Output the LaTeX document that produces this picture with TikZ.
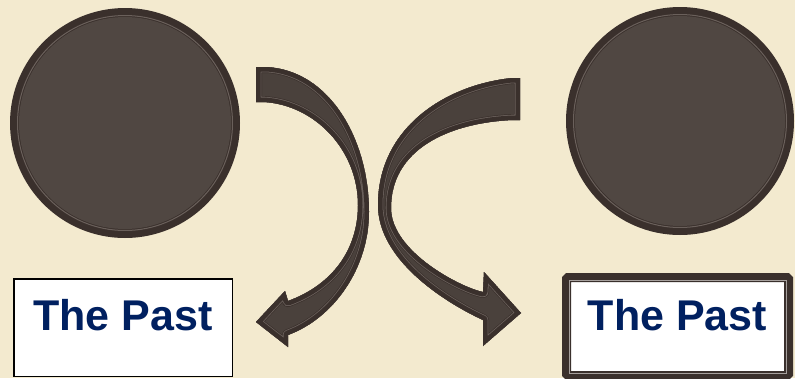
\documentclass[tikz,border=0pt]{standalone}
\usepackage{fontspec}
\newfontfamily\pastfont{Liberation Sans}
\usepackage{tikz}
\definecolor{parchment}{RGB}{243,234,207}
\definecolor{ringdark}{RGB}{58,48,44}
\definecolor{discfill}{RGB}{80,71,66}
\definecolor{bandfill}{RGB}{74,65,60}
\definecolor{ringlight}{RGB}{106,96,91}
\definecolor{pastblue}{RGB}{0,32,96}
\tikzset{
  disc/.style={circle, fill=ringdark, inner sep=0pt, outer sep=0pt},
  discline/.style={draw=ringlight, line width=1pt},
  pastbox/.style={rectangle, fill=white, inner sep=0pt, outer sep=0pt, text=pastblue,
    font=\pastfont\bfseries\fontsize{43}{43}\selectfont},
  plainbox/.style={pastbox, draw=black, line width=1.5pt},
  framebox/.style={pastbox, draw=ringdark, line width=9pt, rounded corners=1.5pt},
  frameline/.style={draw=ringlight!60!white, line width=1pt},
  bandedge/.style={line join=round, line width=#1}
}
\newcommand\bentarrowL{(256,67) -- (266,67)
  .. controls (330,70) and (369,140) .. (369,212)
  .. controls (369,268) and (334,318) .. (288,335)
  -- (288,347) -- (256,322) -- (285,291) -- (288,301)
  .. controls (332,285) and (358,250) .. (358,205)
  .. controls (358,150) and (315,105) .. (264,102)
  -- (256,102) -- cycle}
\newcommand\bentarrowR{(520,78) -- (520,120) -- (512,120)
  .. controls (449,123) and (391,149) .. (391,208)
  .. controls (391,252) and (462,288) .. (483,292)
  -- (484,272) -- (521,313) -- (483,346) -- (483,320)
  .. controls (442,301) and (378,259) .. (378,205)
  .. controls (378,128) and (445,85) .. (512,78)
  -- cycle}
\begin{document}
\begin{tikzpicture}[x=1pt, y=-1pt]
  \useasboundingbox (0,0) rectangle (795,378);
  \clip (0,0) rectangle (795,378);
  \fill[parchment] (0,0) rectangle (795,378);

  \node[disc, minimum size=230pt] (discL) at (125,123) {};
  \draw[discline] (discL.center) circle (107.5);
  \fill[discfill] (discL.center) circle (106);
  \node[disc, minimum size=228pt] (discR) at (680,121) {};
  \draw[discline] (discR.center) circle (106.5);
  \fill[discfill] (discR.center) circle (105);

  \begin{scope}
    \clip \bentarrowL;
    \fill[bandfill] \bentarrowL;
    \draw[ringdark, bandedge=12pt] \bentarrowL;
    \draw[ringlight, bandedge=10.6pt] \bentarrowL;
    \draw[ringdark, bandedge=9pt] \bentarrowL;
  \end{scope}
  \begin{scope}
    \clip \bentarrowR;
    \fill[bandfill] \bentarrowR;
    \draw[ringdark, bandedge=12pt] \bentarrowR;
    \draw[ringlight, bandedge=10.6pt] \bentarrowR;
    \draw[ringdark, bandedge=9pt] \bentarrowR;
  \end{scope}

  \node[plainbox, anchor=base, minimum width=218.5pt, text height=51.25pt, text depth=46.25pt] (pastL) at (123,330) {The Past};
  \node[framebox, anchor=base, minimum width=222pt, text height=52.5pt, text depth=45.5pt] (pastR) at (677.5,330) {The Past};
  \draw[frameline] ([shift={(2.5,2.5)}]pastR.north west) rectangle ([shift={(-2.5,-2.5)}]pastR.south east);
\end{tikzpicture}
\end{document}
